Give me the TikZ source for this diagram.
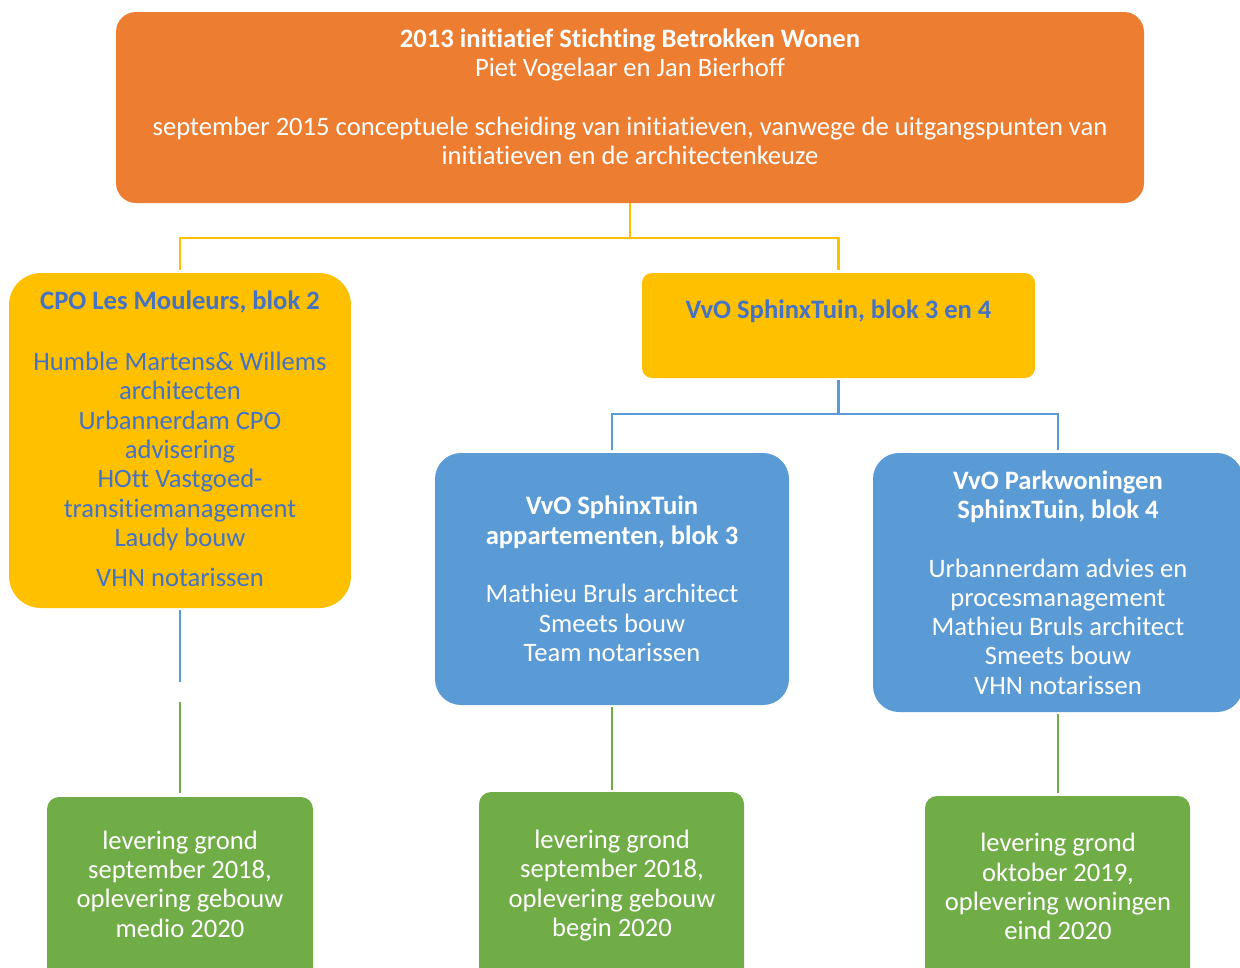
\documentclass[tikz,border=0pt]{standalone}
\usepackage{fontspec}
\setmainfont{Carlito}[Ligatures=NoCommon]
\definecolor{orgc}{HTML}{ED7D31}
\definecolor{ylwc}{HTML}{FFC000}
\definecolor{bluc}{HTML}{5B9BD5}
\definecolor{grnc}{HTML}{70AD47}
\definecolor{txtb}{HTML}{4472C4}
\tikzset{
  boxshape/.style={draw=none, rectangle, inner sep=0pt},
  txt/.style={align=center, inner sep=0pt, font=\fontsize{26.6}{29.3}\selectfont},
  yconn/.style={draw=ylwc, line width=2.2pt},
  bconn/.style={draw=bluc, line width=2.2pt},
  gconn/.style={draw=grnc, line width=2.2pt},
}
\begin{document}
\begin{tikzpicture}[x=1pt,y=-1pt]
\useasboundingbox (0,0) rectangle (1240,967);
\clip (0,0) rectangle (1240,967);
% boxes
\node[boxshape, fill=orgc, minimum width=1028pt, minimum height=191pt, rounded corners=20pt] (top) at (630,107.5) {};
\node[boxshape, fill=ylwc, minimum width=342pt, minimum height=335pt, rounded corners=32pt] (cpo) at (180,440.5) {};
\node[boxshape, fill=ylwc, minimum width=393pt, minimum height=105pt, rounded corners=10pt] (vvo) at (838.5,325.5) {};
\node[boxshape, fill=bluc, minimum width=354pt, minimum height=252pt, rounded corners=26pt] (app) at (612,579) {};
\node[boxshape, fill=bluc, minimum width=370pt, minimum height=259pt, rounded corners=26pt] (park) at (1058,582.5) {};
\node[boxshape, fill=grnc, minimum width=266pt, minimum height=220pt, rounded corners=12pt] (g1) at (180,907) {};
\node[boxshape, fill=grnc, minimum width=265pt, minimum height=220pt, rounded corners=12pt] (g2) at (611.5,902) {};
\node[boxshape, fill=grnc, minimum width=265pt, minimum height=220pt, rounded corners=12pt] (g3) at (1057.5,906) {};
% texts
\node[txt, text=white] (toptxt) at (630,96.5) {\textbf{2013 initiatief Stichting Betrokken Wonen}\\Piet Vogelaar en Jan Bierhoff\\[29.3pt]september 2015 conceptuele scheiding van initiatieven, vanwege de uitgangspunten van\\initiatieven en de architectenkeuze};
\node[txt, text=txtb] (cpotitle) at (180,302) {\textbf{CPO Les Mouleurs, blok 2}};
\node[txt, text=txtb] (cpotxt) at (180,469.5) {Humble Martens\& Willems\\architecten\\Urbannerdam CPO\\advisering\\HOtt Vastgoed-\\transitiemanagement\\Laudy bouw\\[11pt]VHN notarissen};
\node[txt, text=txtb] (vvotxt) at (838.5,311) {\textbf{VvO SphinxTuin, blok 3 en 4}};
\node[txt, text=white] (apptxt) at (612,579) {\textbf{VvO SphinxTuin}\\\textbf{appartementen, blok 3}\\[29.3pt]Mathieu Bruls architect\\Smeets bouw\\Team notarissen};
\node[txt, text=white] (parktxt) at (1058,582.5) {\textbf{VvO Parkwoningen}\\\textbf{SphinxTuin, blok 4}\\[29.3pt]Urbannerdam advies en\\procesmanagement\\Mathieu Bruls architect\\Smeets bouw\\VHN notarissen};
\node[txt, text=white] (g1txt) at (180,884) {levering grond\\september 2018,\\oplevering gebouw\\medio 2020};
\node[txt, text=white] (g2txt) at (612,885.5) {levering grond\\september 2018,\\oplevering gebouw\\begin 2020};
\node[txt, text=white] (g3txt) at (1058,886.5) {levering grond\\oktober 2019,\\oplevering woningen\\eind 2020};
% connectors
\coordinate (yj) at (630,238);
\draw[yconn, shorten >=3pt] (top.south) -- (yj) -| (cpo.north);
\draw[yconn, shorten >=3pt] (yj) -| (vvo.north);
\coordinate (bj) at (838.5,414);
\draw[bconn, shorten <=2pt, shorten >=3pt] (vvo.south) -- (bj) -| (app.north);
\draw[bconn, shorten >=3pt] (bj) -| (park.north);
\coordinate (m1) at (180,682);
\coordinate (m2) at (180,702);
\draw[bconn, shorten <=2pt] (cpo.south) -- (m1);
\draw[gconn, shorten >=4pt] (m2) -- (g1.north);
\draw[gconn, shorten <=2pt, shorten >=2pt] (app.south) -- (app.south |- g2.north);
\draw[gconn, shorten <=2pt, shorten >=3pt] (park.south) -- (park.south |- g3.north);
\end{tikzpicture}
\end{document}
